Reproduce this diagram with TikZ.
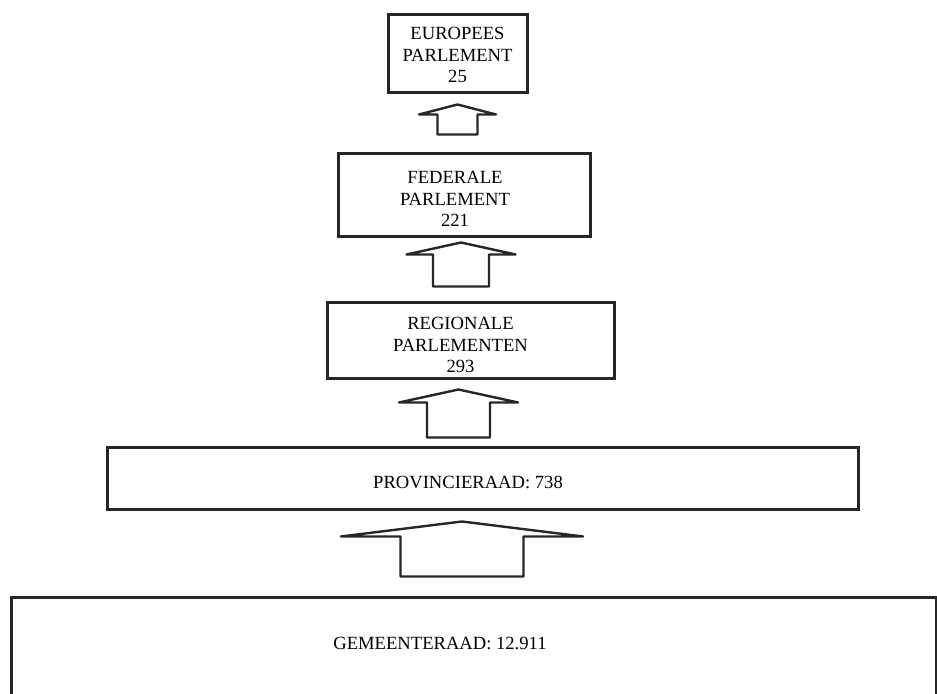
\documentclass[tikz,border=0pt]{standalone}
\usepackage{fontspec}
\setmainfont{Liberation Serif}
\usetikzlibrary{calc}

\tikzset{
  lvlbox/.style={draw=black!85,line width=1.5pt,inner sep=2pt},
  lvltext/.style={font=\fontsize{9.3}{10.9}\selectfont,inner sep=0pt,align=center},
  blockarrow/.style={draw=black!85,line width=1.2pt,line join=round}
}
% #1 upper node, #2 lower node, #3 x offset, #4 tip gap, #5 foot gap,
% #6 half wing, #7 half shaft, #8 head height (all pt)
\newcommand{\blockarrow}[8]{%
  \draw[blockarrow] let \p1=($(#1.south)+(#3pt,-#4pt)$), \p2=($(#2.north)+(#3pt,#5pt)$) in
    (\x1,\y1) -- (\x1+#6pt,\y1-#8pt) -- (\x1+#7pt,\y1-#8pt) -- (\x1+#7pt,\y2)
    -- (\x1-#7pt,\y2) -- (\x1-#7pt,\y1-#8pt) -- (\x1-#6pt,\y1-#8pt) -- cycle;}

\begin{document}
\begin{tikzpicture}[x=0.5pt,y=-0.5pt]
  \useasboundingbox (0,0) rectangle (937,694);
  % levels, top to bottom
  \node[lvlbox,minimum width=69.5pt,minimum height=39pt,
    label={[lvltext,name=eurtxt,yshift=-0.5pt]center:{EUROPEES\\PARLEMENT\\25}}]
    (europees) at (457.5,54) {};
  \node[lvlbox,minimum width=126pt,minimum height=41.5pt,
    label={[lvltext,name=fedtxt,xshift=-4.5pt,yshift=-1.75pt]center:{FEDERALE\\PARLEMENT\\221}}]
    (federaal) at (464,195.5) {};
  \node[lvlbox,minimum width=143.5pt,minimum height=38pt,
    label={[lvltext,name=regtxt,xshift=-5pt,yshift=-2pt]center:{REGIONALE\\PARLEMENTEN\\293}}]
    (regionaal) at (470.5,341) {};
  \node[lvlbox,minimum width=375.5pt,minimum height=31pt,
    label={[lvltext,name=provtxt,xshift=-7.25pt,yshift=-1.5pt]center:{PROVINCIERAAD: 738}}]
    (provincie) at (482.5,479) {};
  \node[lvlbox,minimum width=462.5pt,minimum height=61pt,
    label={[lvltext,name=gemtxt,xshift=-16.75pt,yshift=8pt]center:{GEMEENTERAAD: 12.911}}]
    (gemeente) at (473.5,659) {};
  % block arrows between levels
  \blockarrow{europees}{federaal}{0}{5}{9}{19.25}{10}{5}
  \blockarrow{federaal}{regionaal}{-1.5}{2}{7.5}{27.25}{14}{6}
  \blockarrow{regionaal}{provincie}{-6}{4.5}{4.5}{29.75}{15.75}{6.5}
  \blockarrow{provincie}{gemeente}{-10.25}{5}{10}{60.5}{30.75}{7.5}
\end{tikzpicture}
\end{document}
